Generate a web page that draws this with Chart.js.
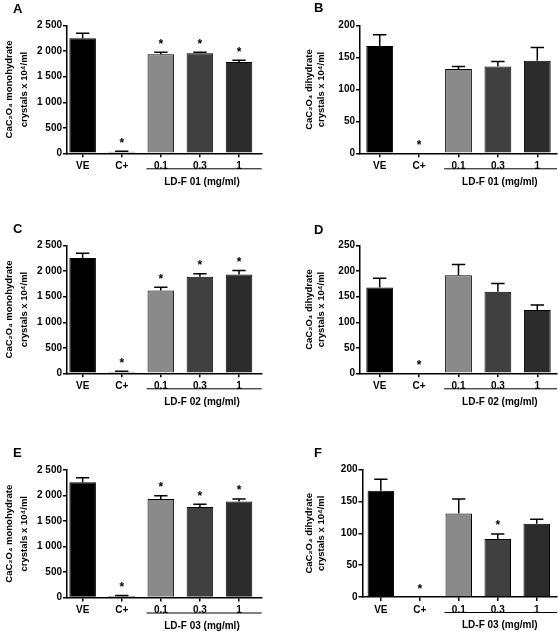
<!DOCTYPE html>
<html lang="en">
<head>
<meta charset="UTF-8">
<script src="https://cdn.jsdelivr.net/npm/chart.js"></script>
<title>CaC2O4 crystals</title>
<style>
    body { margin: 0; background: #fff; }
    #wrap { position: relative; width: 558px; height: 631px; }
    canvas { position: absolute; }
    .tag { position: absolute; font: bold 13px 'Liberation Sans', Arial, sans-serif; line-height: 13px; }
</style>
</head>
<body>
<div id="wrap">
    <canvas id="cA" width="279" height="210" style="left:0;top:0"></canvas>
    <canvas id="cB" width="279" height="210" style="left:279px;top:0"></canvas>
    <canvas id="cC" width="279" height="210" style="left:0;top:210px"></canvas>
    <canvas id="cD" width="279" height="210" style="left:279px;top:210px"></canvas>
    <canvas id="cE" width="279" height="211" style="left:0;top:420px"></canvas>
    <canvas id="cF" width="279" height="211" style="left:279px;top:420px"></canvas>
    <div class="tag" style="left:13px;top:1.6px">A</div>
    <div class="tag" style="left:314px;top:1.3px">B</div>
    <div class="tag" style="left:13px;top:221.5px">C</div>
    <div class="tag" style="left:314px;top:223px">D</div>
    <div class="tag" style="left:13px;top:446.3px">E</div>
    <div class="tag" style="left:314px;top:445.5px">F</div>
</div>
<script>
    var categories = ['VE', 'C+', '0.1', '0.3', '1'];
    var groupLabels = ['LD-F 01 (mg/ml)', 'LD-F 02 (mg/ml)', 'LD-F 03 (mg/ml)'];
    var monoTicks = ['0', '500', '1 000', '1 500', '2 000', '2 500'];
    var diTicks200 = ['0', '50', '100', '150', '200'];
    var diTicks250 = ['0', '50', '100', '150', '200', '250'];
    var monoTitle = ['CaC\u2082O\u2084 monohydrate', 'crystals x 10\u2074/ml'];
    var diTitle = ['CaC\u2082O\u2084 dihydrate', 'crystals x 10\u2074/ml'];

    // A - monohydrate, LD-F 01
    var monoA = [2255, 30, 1940, 1958, 1790];
    var monoAErr = [95, 8, 40, 20, 32];
    var monoAStar = [0, 1, 1, 1, 1];
    // B - dihydrate, LD-F 01
    var diB = [168, 0, 132, 136, 145];
    var diBErr = [18, 0, 4, 8, 21];
    var diBStar = [0, 1, 0, 0, 0];
    // C - monohydrate, LD-F 02
    var monoC = [2260, 30, 1620, 1893, 1938];
    var monoCErr = [92, 8, 65, 58, 78];
    var monoCStar = [0, 1, 1, 1, 1];
    // D - dihydrate, LD-F 02
    var diD = [168, 0, 192, 160, 124];
    var diDErr = [18, 0, 21, 16, 10];
    var diDStar = [0, 1, 0, 0, 0];
    // E - monohydrate, LD-F 03
    var monoE = [2258, 30, 1932, 1775, 1880];
    var monoEErr = [92, 8, 65, 53, 52];
    var monoEStar = [0, 1, 1, 1, 1];
    // F - dihydrate, LD-F 03
    var diF = [167, 0, 131, 91, 115];
    var diFErr = [18, 0, 23, 8, 7];
    var diFStar = [0, 1, 0, 1, 0];

    var barColors = ['#000000', '#8c8c8c', '#8a8a8a', '#404040', '#2b2b2b'];

    Chart.defaults.font.family = "'Liberation Sans', Arial, sans-serif";
    Chart.defaults.font.weight = 'bold';
    Chart.defaults.font.size = 10;
    Chart.defaults.color = '#000';

    // error bars (upper half), asterisks and the group line under the doses
    function makeExtras(values, errors, stars, group) {
        return {
            id: 'extras',
            afterDatasetsDraw: function (chart) {
                var ctx = chart.ctx;
                var y = chart.scales.y;
                var x = chart.scales.x;
                var bars = chart.getDatasetMeta(0).data;
                ctx.save();
                ctx.strokeStyle = '#000';
                ctx.fillStyle = '#000';
                ctx.lineWidth = 1.5;
                ctx.textAlign = 'center';
                ctx.textBaseline = 'alphabetic';
                ctx.font = "bold 12px 'Liberation Sans', Arial, sans-serif";
                for (var i = 0; i < values.length; i++) {
                    var bar = bars[i];
                    var top = y.getPixelForValue(values[i]);
                    var cap = y.getPixelForValue(values[i] + errors[i]);
                    var half = bar.width / 4;
                    if (errors[i] > 0) {
                        ctx.beginPath();
                        ctx.moveTo(bar.x, top);
                        ctx.lineTo(bar.x, cap);
                        ctx.moveTo(bar.x - half, cap);
                        ctx.lineTo(bar.x + half, cap);
                        ctx.stroke();
                    }
                    if (stars[i]) {
                        ctx.fillText('*', bar.x, cap - 4.5);
                    }
                }
                var first = bars[2];
                var lineY = y.bottom + 15.5;
                ctx.lineWidth = 1;
                ctx.beginPath();
                ctx.moveTo(first.x - first.width / 2 - 1, lineY);
                ctx.lineTo(chart.chartArea.right, lineY);
                ctx.stroke();
                ctx.font = "bold 10px 'Liberation Sans', Arial, sans-serif";
                ctx.textBaseline = 'middle';
                ctx.fillText(group, x.getPixelForValue(3) + 2, y.bottom + 28.5);
                ctx.restore();
            }
        };
    }

    function makePanel(id, values, errors, stars, tickText, yMax, group, title, g) {
        var canvas = document.getElementById(id);
        var W = canvas.width, H = canvas.height;
        var points = categories.map(function (c, i) { return { x: i, y: values[i] }; });
        return new Chart(canvas, {
            type: 'bar',
            data: {
                datasets: [{
                    data: points,
                    backgroundColor: barColors,
                    borderColor: '#000',
                    borderWidth: 1,
                    barPercentage: 0.68,
                    categoryPercentage: 1
                }]
            },
            options: {
                responsive: false,
                animation: false,
                layout: { padding: { top: g.top, right: W - g.right, bottom: 0, left: 0 } },
                plugins: { legend: { display: false }, tooltip: { enabled: false } },
                scales: {
                    x: {
                        type: 'linear',
                        offset: false,
                        min: g.xmin,
                        max: g.xmax,
                        afterBuildTicks: function (s) {
                            s.ticks = categories.map(function (c, i) { return { value: i }; });
                        },
                        afterFit: function (s) { s.height = H - g.bottom; },
                        ticks: {
                            autoSkip: false,
                            maxRotation: 0,
                            padding: 3,
                            callback: function (v) { return categories[v]; }
                        },
                        grid: { offset: false, drawOnChartArea: false, color: '#000', lineWidth: 1.5, tickLength: 4 },
                        border: { color: '#000', width: 1.5 }
                    },
                    y: {
                        min: 0,
                        max: yMax,
                        afterFit: function (s) { s.width = g.left; },
                        ticks: {
                            stepSize: yMax / (tickText.length - 1),
                            padding: 1,
                            callback: function (v, i) { return tickText[i]; }
                        },
                        grid: { drawOnChartArea: false, color: '#000', lineWidth: 1.5, tickLength: 4 },
                        border: { color: '#000', width: 1.5 },
                        title: {
                            display: true,
                            text: title,
                            font: { size: 9.5, weight: 'bold', lineHeight: g.lh },
                            padding: { top: g.tp, bottom: 0 }
                        }
                    }
                }
            },
            plugins: [makeExtras(values, errors, stars, group)]
        });
    }

    makePanel('cA', monoA, monoAErr, monoAStar, monoTicks, 2500, groupLabels[0], monoTitle,
        { left: 67, right: 261.7, top: 25.7, bottom: 153.3, xmin: -0.4, xmax: 4.58, lh: 1.6, tp: 1.5 });
    makePanel('cB', diB, diBErr, diBStar, diTicks200, 200, groupLabels[0], diTitle,
        { left: 81, right: 278, top: 25.7, bottom: 153.3, xmin: -0.5, xmax: 4.5, lh: 1.2, tp: 25 });
    makePanel('cC', monoC, monoCErr, monoCStar, monoTicks, 2500, groupLabels[1], monoTitle,
        { left: 67, right: 261.7, top: 35.7, bottom: 163.3, xmin: -0.4, xmax: 4.58, lh: 1.6, tp: 1.5 });
    makePanel('cD', diD, diDErr, diDStar, diTicks250, 250, groupLabels[1], diTitle,
        { left: 81, right: 278, top: 35.7, bottom: 163.3, xmin: -0.5, xmax: 4.5, lh: 1.2, tp: 25 });
    makePanel('cE', monoE, monoEErr, monoEStar, monoTicks, 2500, groupLabels[2], monoTitle,
        { left: 67, right: 261.7, top: 50, bottom: 177.5, xmin: -0.4, xmax: 4.58, lh: 1.6, tp: 1.5 });
    makePanel('cF', diF, diFErr, diFStar, diTicks200, 200, groupLabels[2], diTitle,
        { left: 83.5, right: 278, top: 49.7, bottom: 177, xmin: -0.47, xmax: 4.52, lh: 1.2, tp: 25 });
</script>
</body>
</html>
